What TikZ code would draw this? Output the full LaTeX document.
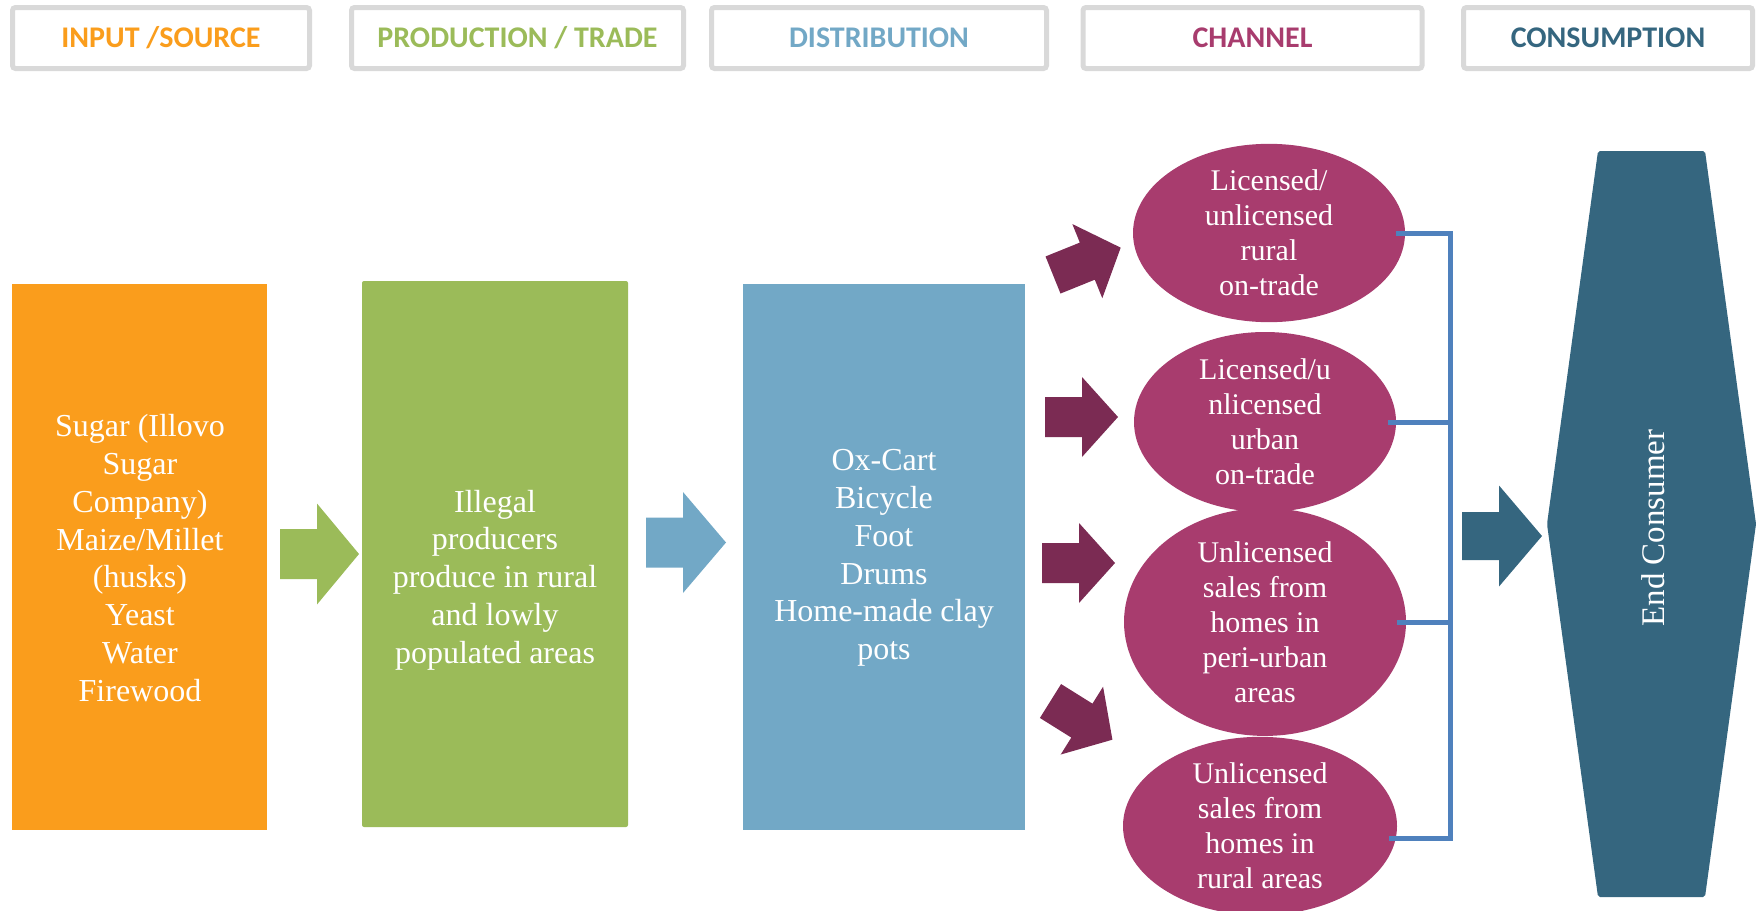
\documentclass[tikz,border=0pt]{standalone}
\usepackage{fontspec}
\setmainfont{Liberation Serif}
\newfontfamily\hdrfont{Carlito}
\usetikzlibrary{shapes.geometric,calc}
\definecolor{cOrange}{HTML}{FA9D1C}
\definecolor{cGreen}{HTML}{9BBB59}
\definecolor{cBlue}{HTML}{72A8C6}
\definecolor{cMag}{HTML}{A83C6E}
\definecolor{cMaroon}{HTML}{7B2B53}
\definecolor{cTeal}{HTML}{35667F}
\definecolor{cBrk}{HTML}{4F81BD}
\definecolor{cGrey}{HTML}{D9D9D9}
\begin{document}
\begin{tikzpicture}[x=1pt,y=-1pt,
  hdr/.style={draw=cGrey, fill=white, line width=5pt, rounded corners=3pt, minimum height=61pt, inner sep=0pt,
    font=\hdrfont\bfseries\fontsize{30}{36}\selectfont},
  stage/.style={inner sep=0pt, text=white, align=center, font=\fontsize{32}{37.8}\selectfont},
  stagebox/.style={inner sep=0pt, minimum width=#1},
  chan/.style={ellipse, fill=cMag, inner sep=0pt, text=white, align=center, font=\fontsize{30}{35}\selectfont},
  brk/.style={draw=cBrk, line width=5pt, line join=miter},
  pics/blockarrow/.style n args={5}{code={
    \fill[#5] (0,{-#2/2}) -- ({#1-#3},{-#2/2}) -- ({#1-#3},{-#4/2}) -- (#1,0)
      -- ({#1-#3},{#4/2}) -- ({#1-#3},{#2/2}) -- (0,{#2/2}) -- cycle;
  }}
]
\useasboundingbox (0,0) rectangle (1758,910);

% header boxes
\node[hdr, minimum width=297pt, text=cOrange] (h1) at (161,38) {INPUT /SOURCE};
\node[hdr, minimum width=332pt, text=cGreen] (h2) at (517.5,38) {PRODUCTION / TRADE};
\node[hdr, minimum width=335pt, text=cBlue] (h3) at (879,38) {DISTRIBUTION};
\node[hdr, minimum width=339pt, text=cMag] (h4) at (1252.5,38) {CHANNEL};
\node[hdr, minimum width=289pt, text=cTeal] (h5) at (1608,38) {CONSUMPTION};

% stage boxes
\node[fill=cOrange, minimum width=255pt, minimum height=546pt, inner sep=0pt] (src) at (139.5,557) {};
\node[stage] (srctxt) at (140,558) {Sugar (Illovo\\Sugar\\Company)\\Maize/Millet\\(husks)\\Yeast\\Water\\Firewood};

\node[fill=cGreen, rounded corners=2pt, minimum width=266pt, minimum height=546pt, inner sep=0pt] (prod) at (495,554) {};
\node[stage] (prodtxt) at (495,580) {Illegal\\producers\\produce in rural\\and lowly\\populated areas};

\node[fill=cBlue, minimum width=282pt, minimum height=546pt, inner sep=0pt] (dist) at (884,557) {};
\node[stage] (disttxt) at (884,558) {Ox-Cart\\Bicycle\\Foot\\Drums\\Home-made clay\\pots};

% block arrows between stages
\pic at (280,554) {blockarrow={79}{50}{42}{101}{cGreen}};
\pic at (646,542.5) {blockarrow={80}{50}{43}{101}{cBlue}};

% channel ellipses
\node[chan, minimum width=272pt, minimum height=164pt] (e1) at (1269,233) {Licensed/\\unlicensed\\rural\\on-trade};
\node[chan, minimum width=262pt, minimum height=180pt] (e2) at (1265,422) {Licensed/u\\nlicensed\\urban\\on-trade};
\node[chan, minimum width=282pt, minimum height=209pt] (e3) at (1265,622) {Unlicensed\\sales from\\homes in\\peri-urban\\areas};
\node[chan, minimum width=274pt, minimum height=165pt] (e4) at (1260,826) {Unlicensed\\sales from\\homes in\\rural areas};

% maroon arrows
\pic[rotate=22] at (1053,275) {blockarrow={73}{40}{36}{80}{cMaroon}};
\pic at (1045,417) {blockarrow={73}{40}{36}{80}{cMaroon}};
\pic at (1042,563) {blockarrow={73}{40}{36}{80}{cMaroon}};
\pic[rotate=-32] at (1050.5,701) {blockarrow={73}{40}{36}{80}{cMaroon}};

% bracket
\coordinate (bt) at (1450,233);
\coordinate (bb) at (1450,838);
\draw[brk] ($(e1.east)+(-9,0)$) -- (bt) -- (bb) -- ($(e4.east)+(-8,12)$);
\draw[brk] ($(e2.east)+(-8,0)$) -- (e2.east -| bt);
\draw[brk] ($(e3.east)+(-9,0)$) -- (e3.east -| bt);

% consumption
\pic at (1462,536) {blockarrow={80}{48}{43}{101}{cTeal}};
\fill[cTeal, rounded corners=2pt] (1598,151) -- (1705,151) -- (1756,524) -- (1705,897) -- (1598,897) -- (1547,524) -- cycle;
\node[stage, rotate=90, font=\fontsize{33}{38}\selectfont] (cons) at (1653,528) {End Consumer};
\end{tikzpicture}
\end{document}
